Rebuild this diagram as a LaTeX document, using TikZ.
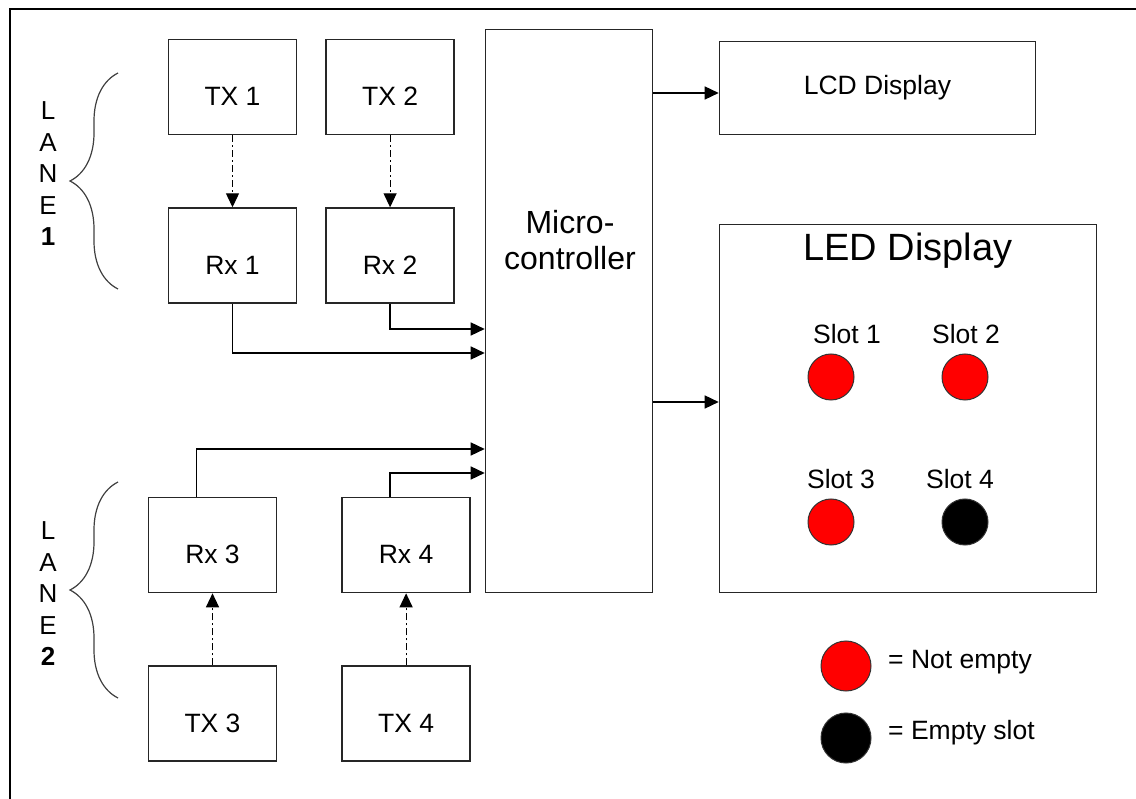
\documentclass[tikz,border=0pt]{standalone}
\usepackage{fontspec}
\setmainfont{Liberation Sans}
\usetikzlibrary{arrows.meta,positioning,decorations.pathreplacing}

\begin{document}
\begin{tikzpicture}[
  x=1pt,y=-1pt,
  font=\fontsize{26.5}{31}\selectfont,
  blk/.style={rectangle,draw=black!85,line width=1.6pt,minimum width=128pt,minimum height=95pt,inner sep=0pt},
  low/.style={text height=37pt,text depth=0pt},
  arr/.style={-{Triangle[length=14pt,width=13pt]},line width=1.5pt},
  dd/.style={-{Triangle[length=14pt,width=13pt]},line width=1.2pt,dash pattern=on 7pt off 3pt on 2pt off 3pt},
  slot/.style={circle,draw=black!80,line width=1pt,minimum size=46pt,inner sep=0pt},
  lane/.style={align=center,inner sep=0pt,font=\fontsize{26}{31.5}\selectfont},
  brc/.style={decorate,decoration={brace,amplitude=48pt},line width=1.2pt,draw=black!75}
]
\useasboundingbox (0,0) rectangle (1136,799);
\draw[line width=2.4pt] (1136,9) -| (10,799);

% lane 1
\node[blk,low] (tx1) at (232.5,87) {TX 1};
\node[blk,low,right=28pt of tx1] (tx2) {TX 2};
\node[blk,low,below=72pt of tx1] (rx1) {Rx 1};
\node[blk,low,below=72pt of tx2] (rx2) {Rx 2};
\node[lane] (lane1) at (48,174) {L\\A\\N\\E\\\textbf{1}};
\coordinate (b1a) at (118,289);
\coordinate (b1b) at (118,73);
\draw[brc] (b1a) -- (b1b);

% lane 2
\node[blk,low] (rx3) at (212.5,545) {Rx 3};
\node[blk,low,right=64pt of rx3] (rx4) {Rx 4};
\node[blk,low,below=72pt of rx3] (tx3) {TX 3};
\node[blk,low,below=72pt of rx4] (tx4) {TX 4};
\node[lane] (lane2) at (48,594) {L\\A\\N\\E\\\textbf{2}};
\coordinate (b2a) at (118,698);
\coordinate (b2b) at (118,482);
\draw[brc] (b2a) -- (b2b);

% controller and displays
\node[blk,minimum width=167pt,minimum height=563pt] (micro) at (569,311) {};
\node[align=center,font=\fontsize{32}{36}\selectfont] (microtxt) at (570,240) {Micro-\\controller};
\node[blk,minimum width=316pt,minimum height=93pt] (lcd) at (877.5,88) {LCD Display};
\node[blk,minimum width=377pt,minimum height=368pt] (led) at (908,408.5) {};
\node[font=\fontsize{38}{40}\selectfont] (ledtxt) at (908,251) {LED Display};

\node[slot,fill=red] (s1) at (831,377) {};
\node[slot,fill=red] (s2) at (965,377) {};
\node[slot,fill=red] (s3) at (831,522) {};
\node[slot,fill=black] (s4) at (965,522) {};
\node (s1txt) at (847,334) {Slot 1};
\node (s2txt) at (966,334) {Slot 2};
\node (s3txt) at (841,479) {Slot 3};
\node (s4txt) at (960,479) {Slot 4};

% legend
\node[slot,fill=red,minimum size=50pt] (kfull) at (846,666) {};
\node[slot,fill=black,minimum size=50pt] (kempty) at (846,738) {};
\node[anchor=west,inner sep=0pt] (kfulltxt) at (888,662) {= Not empty};
\node[anchor=west,inner sep=0pt] (kemptytxt) at (888,733) {= Empty slot};

% links
\draw[dd] (tx1) -- (rx1);
\draw[dd] (tx2) -- (rx2);
\draw[dd] (tx3) -- (rx3);
\draw[dd] (tx4) -- (rx4);
\draw[arr] (rx2.south) |- ([yshift=-18pt]micro.west);
\draw[arr] (rx1.south) |- ([yshift=-42pt]micro.west);
\draw[arr] ([xshift=-16pt]rx3.north) |- ([yshift=-138pt]micro.west);
\draw[arr] ([xshift=-16pt]rx4.north) |- ([yshift=-162pt]micro.west);
\draw[arr] ([yshift=-5pt]micro.east |- lcd.west) -- ([yshift=-5pt]lcd.west);
\draw[arr] ([yshift=6.5pt]micro.east |- led.west) -- ([yshift=6.5pt]led.west);
\end{tikzpicture}
\end{document}
